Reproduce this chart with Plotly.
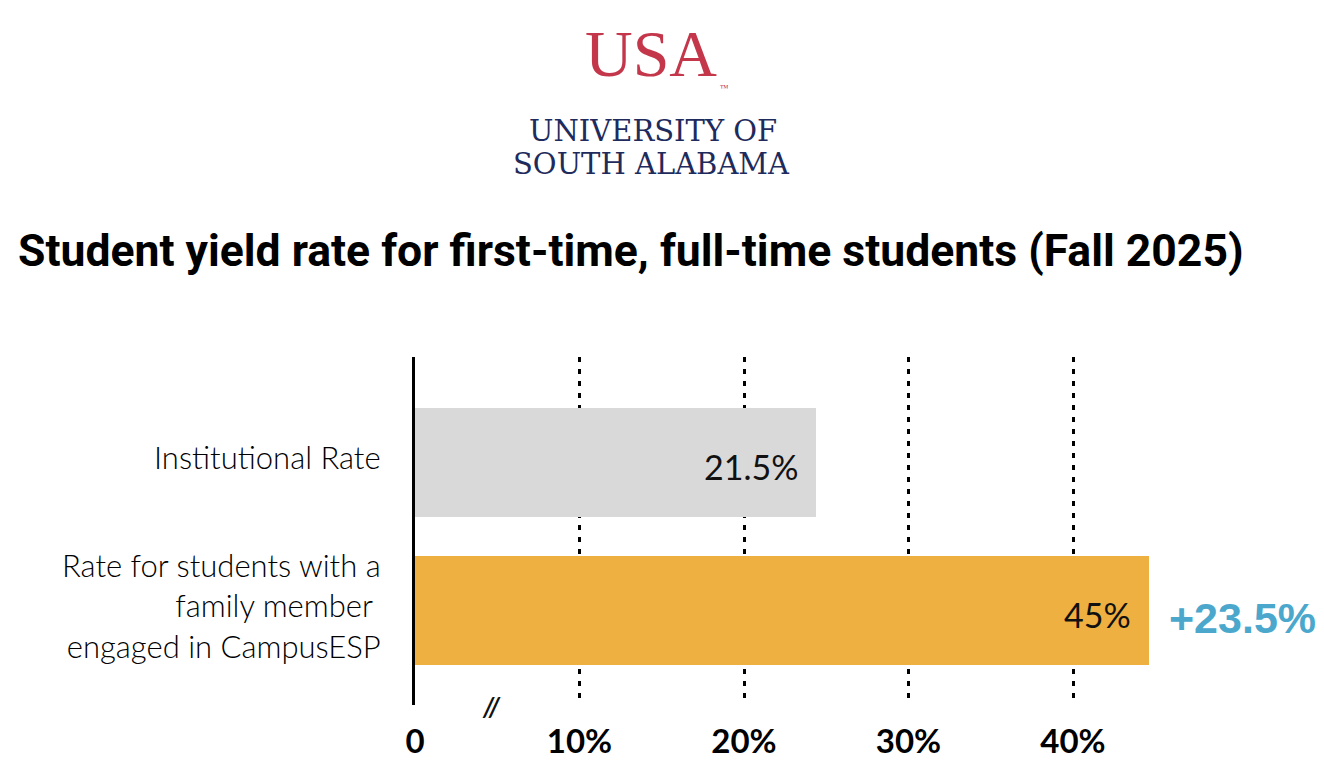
import plotly.graph_objects as go

# ---- data ----
categories = ["Institutional Rate", "Rate for students with a family member engaged in CampusESP"]
category_labels = ["Institutional Rate", "Rate for students with a<br>family member <br>engaged in CampusESP"]
bar_values = [24.4, 44.6]          # bar lengths as drawn against the axis
value_labels = ["21.5%", "45%"]     # printed values
bar_colors = ["#d9d9d9", "#eeb040"]
difference_label = "+23.5%"
tick_values = [0, 10, 20, 30, 40]
tick_labels = ["0", "10%", "20%", "30%", "40%"]
title_text = "Student yield rate for first-time, full-time students (Fall 2025)"

OFF = 8  # page body margin
W, H = 1324 - OFF, 776 - OFF
L, T = 415 - OFF, 357 - OFF
PW = 809
PH = 705 - 357
R = W - L - PW
B = H - T - PH


def px(xp):
    return (xp - OFF - L) / PW


def py(yp):
    return (H - B - (yp - OFF)) / PH


fig = go.Figure()
fig.add_bar(
    y=categories, x=bar_values, orientation="h",
    marker=dict(color=bar_colors, line=dict(width=0)),
    width=0.736, hoverinfo="skip",
)

annotations = []
for cat, v, lab in zip(categories, bar_values, value_labels):
    annotations.append(dict(
        x=v, y=cat, xref="x", yref="y", text=lab, showarrow=False,
        xanchor="right", yanchor="middle", xshift=-16, yshift=-4,
        font=dict(family="Lato", size=34, color="#111111"),
    ))
annotations.append(dict(
    x=bar_values[1], y=categories[1], xref="x", yref="y", text=difference_label,
    showarrow=False, xanchor="left", yanchor="middle", xshift=18, yshift=-8,
    font=dict(family="Liberation Sans", size=43, color="#4ba7cc", weight="bold"),
))
for cat, lab in zip(categories, category_labels):
    annotations.append(dict(
        x=px(383), y=cat, xref="paper", yref="y", text=lab, showarrow=False,
        xanchor="right", yanchor="middle", align="right", yshift=5,
        font=dict(family="Lato", size=31, color="#000000", weight=300),
    ))
annotations.append(dict(
    x=px(491), y=py(706), xref="paper", yref="paper", text="<i>//</i>", showarrow=False,
    xanchor="center", yanchor="middle",
    font=dict(family="Lato", size=26, color="#111111", weight="bold"),
))
red = "#c4374b"
navy = "#1e2b5c"
annotations.append(dict(
    x=px(651), y=py(53), xref="paper", yref="paper", text="USA", showarrow=False,
    xanchor="center", yanchor="middle",
    font=dict(family="Liberation Serif", size=66, color=red),
))
annotations.append(dict(
    x=px(718), y=py(88), xref="paper", yref="paper", text="™", showarrow=False,
    xanchor="left", yanchor="middle", font=dict(family="Liberation Serif", size=9, color=red),
))
annotations.append(dict(
    x=px(653), y=py(131), xref="paper", yref="paper", text="UNIVERSITY OF", showarrow=False,
    xanchor="center", yanchor="middle", font=dict(family="DejaVu Serif", size=29, color=navy),
))
annotations.append(dict(
    x=px(651), y=py(164), xref="paper", yref="paper", text="SOUTH ALABAMA", showarrow=False,
    xanchor="center", yanchor="middle", font=dict(family="DejaVu Serif", size=29, color=navy),
))

fig.update_layout(
    width=W, height=H,
    margin=dict(l=L, r=R, t=T, b=B, pad=0),
    paper_bgcolor="white", plot_bgcolor="white",
    showlegend=False,
    title=dict(
        text=title_text, x=(18 - OFF) / W, xanchor="left", xref="container",
        y=1 - (250 - OFF) / H, yanchor="middle", yref="container",
        font=dict(family="Roboto", size=44.5, color="#000000", weight="bold"),
    ),
    xaxis=dict(
        range=[0, PW / 16.45], tickvals=tick_values, ticktext=tick_labels,
        showgrid=True, gridcolor="#000000", gridwidth=3, griddash="5px,7px",
        zeroline=False, showline=False, ticks="", ticklabelstandoff=14,
        tickfont=dict(family="Lato", size=33, color="#000000", weight="bold"),
        fixedrange=True,
    ),
    yaxis=dict(
        type="category", range=[1.642, -0.713], showticklabels=False,
        showgrid=False, zeroline=False, showline=True, linecolor="#000000", linewidth=3,
        ticks="", fixedrange=True,
    ),
    annotations=annotations,
    bargap=0,
)

fig.write_html("out.html")
